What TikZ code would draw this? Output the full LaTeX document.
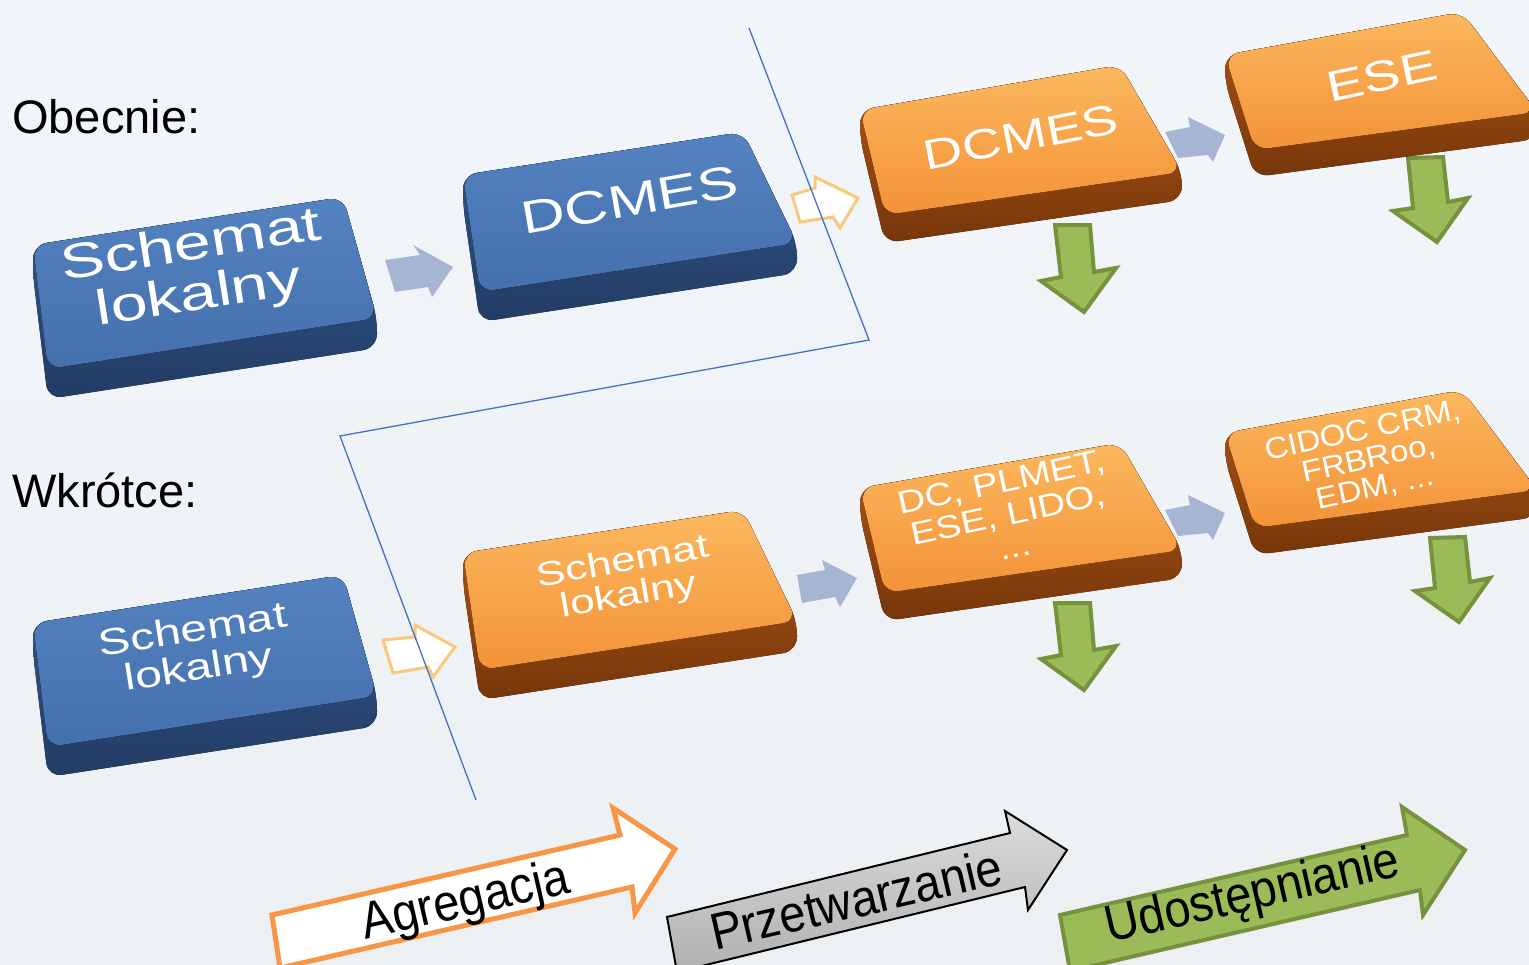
\documentclass[tikz,border=0pt]{standalone}
\usepackage{fontspec}
\setmainfont{Liberation Sans}

\definecolor{bluetop}{RGB}{84,131,193}
\definecolor{bluebot}{RGB}{68,112,172}
\definecolor{bluesidetop}{RGB}{52,88,140}
\definecolor{bluesidebot}{RGB}{33,60,100}
\definecolor{orangetop}{RGB}{252,184,94}
\definecolor{orangebot}{RGB}{243,146,56}
\definecolor{orangesidetop}{RGB}{178,88,22}
\definecolor{orangesidebot}{RGB}{118,54,10}
\definecolor{flowgray}{RGB}{165,181,210}
\definecolor{lightorange}{RGB}{250,200,125}
\definecolor{greenfill}{RGB}{155,187,89}
\definecolor{greenline}{RGB}{118,146,60}
\definecolor{orangeline}{RGB}{247,150,70}
\definecolor{linkblue}{RGB}{68,114,196}

\newcommand{\keycap}[6]{%
  \fill[#1side] (#2) -- (#3) -- (#4) -- ([yshift=-#6pt]#4) -- ([yshift=-#6pt]#5) -- ([yshift=-#6pt]#2) -- cycle;
  \fill[#1face] (#2) -- (#3) -- (#4) -- (#5) -- cycle;}

\begin{document}
\begin{tikzpicture}[x=1pt, y=-1pt,
  blueface/.style={rounded corners=14pt, top color=bluetop, bottom color=bluebot},
  blueside/.style={rounded corners=14pt, top color=bluesidetop, bottom color=bluesidebot},
  orangeface/.style={rounded corners=14pt, top color=orangetop, bottom color=orangebot},
  orangeside/.style={rounded corners=14pt, top color=orangesidetop, bottom color=orangesidebot},
  captext/.style={text=white, align=center, inner sep=0pt},
  flatarrow/.style={fill=flowgray},
  hollowarrow/.style={draw=lightorange, fill=white, line width=3pt},
  downarrow/.style={draw=greenline, fill=greenfill, line width=4pt},
  phase/.style={inner sep=0pt, rotate=13, yscale=1.1, font=\fontsize{47}{47}\selectfont}]
  \clip (0,0) rectangle (1529,964);
  \fill[top color={rgb,255:red,242;green,245;blue,249}, bottom color={rgb,255:red,237;green,240;blue,243}] (0,0) rectangle (1529,964);

  \fill[flatarrow] (385,260) -- (420,255) -- (413,245) -- (453,267) -- (432,297) -- (428,287) -- (395,292) -- cycle;
  \fill[flatarrow] (1165,132) -- (1190,127) -- (1188,117) -- (1225,135) -- (1213,162) -- (1208,155) -- (1178,158) -- cycle;
  \fill[flatarrow] (797,575) -- (825,570) -- (822,560) -- (857,578) -- (840,607) -- (835,597) -- (802,603) -- cycle;
  \fill[flatarrow] (1165,510) -- (1190,505) -- (1188,495) -- (1225,513) -- (1213,540) -- (1208,533) -- (1178,536) -- cycle;
  \draw[hollowarrow] (792,195) -- (815,188) -- (815,177) -- (858,198) -- (840,228) -- (833,217) -- (800,222) -- cycle;
  \draw[hollowarrow] (383,640) -- (415,637) -- (415,625) -- (455,647) -- (433,677) -- (428,667) -- (393,673) -- cycle;
  \draw[downarrow] (1055,225) -- (1061,277) -- (1041,281) -- (1084,312) -- (1116,268) -- (1094,272) -- (1090,225) -- cycle;
  \draw[downarrow] (1408,158) -- (1413,208) -- (1393,211) -- (1437,242) -- (1468,198) -- (1448,202) -- (1443,157) -- cycle;
  \draw[downarrow] (1055,603) -- (1061,655) -- (1041,659) -- (1084,690) -- (1116,646) -- (1094,650) -- (1090,603) -- cycle;
  \draw[downarrow] (1430,538) -- (1435,588) -- (1415,591) -- (1459,622) -- (1490,578) -- (1470,582) -- (1465,537) -- cycle;

  \keycap{blue}{33,245}{343,197}{377,318}{48,369}{30}
  \keycap{blue}{463,175}{743,132}{797,243}{480,292}{30}
  \keycap{orange}{860,110}{1120,65}{1182,172}{885,215}{28}
  \keycap{orange}{1225,55}{1462,12}{1537,112}{1255,150}{27}
  \keycap{blue}{33,623}{343,575}{377,696}{48,747}{30}
  \keycap{orange}{463,553}{743,510}{797,621}{480,670}{30}
  \keycap{orange}{860,488}{1120,443}{1182,550}{885,593}{28}
  \keycap{orange}{1225,433}{1462,390}{1537,490}{1255,528}{27}

  \node[captext, rotate=9, xscale=1.36, font=\fontsize{49}{50}\selectfont] (lokalny1) at (195,272) {Schemat\\lokalny};
  \node[captext, rotate=10, xscale=1.32, font=\fontsize{46}{46}\selectfont] (dcmes1) at (630,200) {DCMES};
  \node[captext, rotate=11, xscale=1.3, font=\fontsize{42}{42}\selectfont] (dcmes2) at (1021,137) {DCMES};
  \node[captext, rotate=12, xscale=1.3, font=\fontsize{43}{43}\selectfont] (ese) at (1382,76) {ESE};
  \node[captext, rotate=9, xscale=1.3, font=\fontsize{37}{38}\selectfont] (lokalny2) at (196,651) {Schemat\\lokalny};
  \node[captext, rotate=10, xscale=1.3, font=\fontsize{34}{34}\selectfont] (lokalny3) at (626,580) {Schemat\\lokalny};
  \node[captext, rotate=12, xscale=1.2, font=\fontsize{32}{33}\selectfont] (dcplmet) at (1008,514) {DC, PLMET,\\ESE, LIDO,\\...};
  \node[captext, rotate=12, xscale=1.1, font=\fontsize{30}{29}\selectfont] (cidoc) at (1369,460) {CIDOC CRM,\\FRBRoo,\\EDM, ...};

  \node[anchor=base west, inner sep=0pt, font=\fontsize{47}{47}\selectfont] (obecnie) at (12,133) {Obecnie:};
  \node[anchor=base west, inner sep=0pt, font=\fontsize{47}{47}\selectfont] (wkrotce) at (12,507) {Wkrótce:};

  \draw[linkblue, line width=1.3pt] (749,28) -- (869,340) -- (340,436) -- (476,800);

  \draw[draw=orangeline, fill=white, line width=5pt] (272,915) -- (620,835) -- (613,808) -- (675,849) -- (635,913) -- (632,887) -- (280,968) -- cycle;
  \draw[draw=black, top color=gray!28, bottom color=gray!62, line width=2pt] (667,917) -- (1010,833) -- (1005,811) -- (1067,850) -- (1028,910) -- (1025,887) -- (677,972) -- cycle;
  \draw[draw=greenline, fill=greenfill, line width=4pt] (1060,915) -- (1407,835) -- (1402,807) -- (1465,850) -- (1423,915) -- (1420,890) -- (1070,971) -- cycle;
  \node[phase] (agregacja) at (466,903) {Agregacja};
  \node[phase] (przetwarzanie) at (856,899) {Przetwarzanie};
  \node[phase] (udostepnianie) at (1253,896) {Udostępnianie};
\end{tikzpicture}
\end{document}
